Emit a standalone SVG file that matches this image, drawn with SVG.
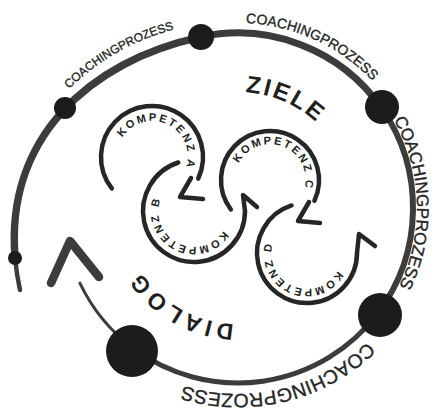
<svg xmlns="http://www.w3.org/2000/svg" width="434" height="416" viewBox="0 0 434 416">
<style>
.arc{fill:none;stroke:#3c3c3c;stroke-linecap:round;stroke-linejoin:round}
.dot{fill:#1c1c1c}
.ring{fill:none;stroke:#262626;stroke-width:4.5;stroke-linecap:round;stroke-linejoin:round}
.cp{font-family:"Liberation Sans",Arial,sans-serif;fill:#262626;stroke:#262626;stroke-width:0.35}
.big{font-family:"Liberation Sans",Arial,sans-serif;font-weight:bold;fill:#1f1f1f}
.kt{font-family:"Liberation Sans",Arial,sans-serif;font-weight:bold;font-size:11px;fill:#222;letter-spacing:2.2px}
</style>
<defs>
<path id="t1" d="M69.13,89.13 A227.5,227.5 0 0 1 230,22.5"/>
<path id="t2" d="M245.9,23.2 A185,185 0 0 1 398.2,115.5"/>
<path id="t3" d="M393.8,119.9 A179,179 0 0 1 375.1,323.1"/>
<path id="t4" d="M367.2,341.8 A186,186 0 0 1 145,369.1"/>
<path id="tz" d="M245.3,92.2 A116,116 0 0 1 338.46,150"/>
<path id="td" d="M233.95,323.93 A116,116 0 0 1 129,247.67"/>
<path id="ka" d="M122.23,137.67 A35.5,35.5 0 1 1 181.77,176.33 A35.5,35.5 0 1 1 122.23,137.67"/>
<path id="kb" d="M223.43,230.85 A35.5,35.5 0 1 1 164.57,191.15 A35.5,35.5 0 1 1 223.43,230.85"/>
<path id="kc" d="M238.66,163.33 A35.5,35.5 0 1 1 301.34,196.67 A35.5,35.5 0 1 1 238.66,163.33"/>
<path id="kd" d="M337.74,270.75 A35.5,35.5 0 1 1 276.26,235.25 A35.5,35.5 0 1 1 337.74,270.75"/>
</defs>
<rect width="434" height="416" fill="#fff"/>
<g id="connectors">
<g id="coaching-cycle">
<path class="arc" stroke-width="3" d="M79.92,283.06 A175,175 0 0 0 133.66,348.49"/>
<path class="arc" stroke-width="5" d="M133.66,348.49 A175,175 0 0 0 377.76,313.32"/>
<path class="arc" stroke-width="6" d="M377.76,313.32 A175,175 0 0 0 381.36,107.62"/>
<path class="arc" stroke-width="7" d="M381.36,107.62 A175,175 0 0 0 200.13,37.15"/>
<path class="arc" stroke-width="7.5" d="M200.13,37.15 C88.7,61.3 5,138.9 15.1,257.9"/>
<path class="arc" stroke-width="4.5" d="M15.1,257.9 C16,268.3 17.6,279 20,290"/>
<path class="arc" stroke-width="8.5" d="M51,283 L70,241 L99,277"/>
</g>
<g id="ring-a"><path class="ring" d="M111.81,188.4 A51,51 0 1 1 198.22,178.55"/><path class="ring" d="M191,178 L180,197 L203,199"/></g>
<g id="ring-b"><path class="ring" d="M178.24,162.5 A51,51 0 1 0 245,211"/><path class="ring" d="M245,211 L243,195 L257,207"/></g>
<g id="ring-c"><path class="ring" d="M230.87,209.49 A49,49 0 1 1 314.41,200.71"/><path class="ring" d="M309,202 L298,221 L320,223"/></g>
<g id="ring-d"><path class="ring" d="M291.55,205.45 A50,50 0 1 0 357,253"/><path class="ring" d="M357,253 L359,234 L375,246"/></g>
</g>
<g id="milestones">
<circle class="dot" cx="132" cy="351" r="26"/>
<circle class="dot" cx="380" cy="315" r="22"/>
<circle class="dot" cx="382" cy="107" r="17"/>
<circle class="dot" cx="201" cy="37" r="13"/>
<circle class="dot" cx="65" cy="108" r="11"/>
<circle class="dot" cx="15" cy="258" r="7"/>
</g>
<g id="coaching-labels">
<text class="cp" font-size="12"><textPath href="#t1">COACHINGPROZESS</textPath></text>
<text class="cp" font-size="14"><textPath href="#t2">COACHINGPROZESS</textPath></text>
<text class="cp" font-size="17"><textPath href="#t3">COACHINGPROZESS</textPath></text>
<text class="cp" font-size="19.5"><textPath href="#t4">COACHINGPROZESS</textPath></text>
</g>
<g id="ziele"><text class="big" font-size="24" letter-spacing="2.5"><textPath href="#tz">ZIELE</textPath></text></g>
<g id="dialog"><text class="big" font-size="23" letter-spacing="4"><textPath href="#td">DIALOG</textPath></text></g>
<g id="kompetenz-a"><text class="kt"><textPath href="#ka">KOMPETENZ A</textPath></text></g>
<g id="kompetenz-b"><text class="kt"><textPath href="#kb">KOMPETENZ B</textPath></text></g>
<g id="kompetenz-c"><text class="kt"><textPath href="#kc">KOMPETENZ C</textPath></text></g>
<g id="kompetenz-d"><text class="kt"><textPath href="#kd">KOMPETENZ D</textPath></text></g>
</svg>
